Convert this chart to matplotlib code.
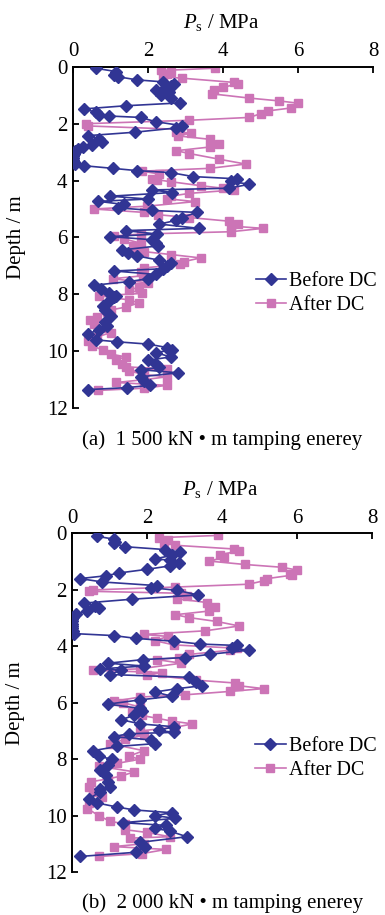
import matplotlib
matplotlib.use("Agg")
import matplotlib.pyplot as plt

plt.rcParams['font.family'] = ['Liberation Serif', 'DejaVu Serif']
plt.rcParams['mathtext.fontset'] = 'custom'
plt.rcParams['mathtext.rm'] = 'Liberation Serif'
plt.rcParams['mathtext.it'] = 'Liberation Serif:italic'

# (depth m, Ps MPa) pairs for each CPT sounding
before_a = [(0.05, 0.6), (0.17, 1.15), (0.3, 1.1), (0.35, 1.2), (0.46, 1.7), (0.53, 2.4),
            (0.6, 2.7), (0.68, 2.6), (0.75, 2.45), (0.83, 2.2), (0.9, 2.55), (1.0, 2.35),
            (1.1, 2.6), (1.27, 2.85), (1.37, 1.4), (1.48, 0.3), (1.6, 0.6), (1.68, 0.7),
            (1.73, 0.95), (1.78, 1.8), (1.93, 2.2), (2.07, 2.9), (2.15, 2.75), (2.3, 1.65),
            (2.42, 0.4), (2.55, 0.7), (2.65, 0.78), (2.75, 0.5), (2.82, 0.25), (2.9, 0.12),
            (2.97, 0.05), (3.05, 0.02), (3.12, 0.0), (3.2, 0.0), (3.27, 0.0), (3.35, 0.02),
            (3.42, 0.05), (3.48, 0.3), (3.57, 1.05), (3.65, 1.7), (3.72, 2.6), (3.86, 3.2),
            (3.94, 4.38), (4.03, 4.2), (4.13, 4.7), (4.27, 4.15), (4.33, 2.1), (4.42, 2.65),
            (4.55, 0.99), (4.65, 2.0), (4.73, 0.67), (4.84, 1.35), (4.96, 1.2), (5.05, 2.1),
            (5.12, 3.3), (5.3, 2.9), (5.4, 2.75), (5.53, 2.3), (5.68, 3.35), (5.76, 1.4),
            (5.88, 2.24), (5.97, 0.99), (6.08, 2.1), (6.2, 2.2), (6.3, 2.25), (6.44, 1.3),
            (6.55, 1.45), (6.65, 1.7), (6.8, 2.3), (6.9, 2.6), (7.0, 2.5), (7.1, 2.4),
            (7.18, 1.1), (7.3, 2.2), (7.45, 2.0), (7.55, 1.5), (7.68, 0.55), (7.8, 0.75),
            (7.95, 0.95), (8.05, 1.15), (8.1, 1.1), (8.25, 0.95), (8.4, 0.8), (8.55, 0.85),
            (8.75, 1.0), (8.97, 0.85), (9.1, 0.9), (9.25, 0.7), (9.38, 0.4), (9.6, 0.6),
            (9.67, 1.18), (9.75, 2.0), (9.87, 2.5), (9.95, 2.65), (10.05, 2.2), (10.2, 2.6),
            (10.32, 2.0), (10.45, 2.2), (10.57, 2.3), (10.65, 1.8), (10.76, 2.8), (10.9, 1.8),
            (11.05, 1.9), (11.2, 2.05), (11.28, 1.44), (11.35, 0.4)]

after_a = [(0.05, 3.79), (0.13, 2.35), (0.2, 2.6), (0.27, 2.5), (0.35, 2.4), (0.4, 2.9),
           (0.55, 4.3), (0.6, 4.4), (0.72, 4.0), (0.8, 3.75), (0.95, 3.7), (1.1, 4.7),
           (1.2, 5.5), (1.28, 6.0), (1.45, 5.8), (1.55, 5.2), (1.65, 5.0), (1.78, 4.7),
           (1.88, 3.1), (2.0, 0.35), (2.08, 0.4), (2.2, 2.85), (2.3, 2.75), (2.33, 3.15),
           (2.43, 2.8), (2.55, 3.65), (2.7, 3.9), (2.82, 3.65), (2.95, 2.75), (3.05, 3.1),
           (3.25, 3.9), (3.42, 4.6), (3.57, 3.65), (3.67, 1.83), (3.77, 2.3), (3.93, 2.1),
           (3.97, 2.23), (4.04, 2.6), (4.18, 3.4), (4.27, 4.0), (4.33, 4.3), (4.45, 3.1),
           (4.55, 2.6), (4.64, 2.5), (4.74, 3.25), (4.9, 1.98), (5.0, 0.55), (5.12, 1.9),
           (5.2, 2.25), (5.3, 3.1), (5.43, 4.17), (5.53, 4.4), (5.6, 4.2), (5.68, 5.07),
           (5.8, 4.2), (5.88, 1.8), (5.95, 1.1), (6.05, 1.35), (6.2, 1.8), (6.3, 1.6),
           (6.4, 1.65), (6.5, 1.9), (6.6, 2.6), (6.72, 3.4), (6.85, 2.95), (6.95, 2.85),
           (7.07, 1.9), (7.2, 1.8), (7.35, 1.85), (7.45, 1.05), (7.6, 2.0), (7.75, 1.75),
           (7.85, 1.5), (7.97, 1.83), (8.05, 0.7), (8.2, 1.5), (8.3, 1.75), (8.45, 1.4),
           (8.55, 1.0), (8.62, 0.9), (8.8, 0.63), (8.9, 0.45), (9.05, 0.55), (9.2, 0.9),
           (9.35, 1.0), (9.5, 0.63), (9.65, 0.4), (9.8, 0.5), (9.97, 0.8), (10.1, 1.0),
           (10.2, 1.4), (10.3, 1.15), (10.45, 1.3), (10.55, 1.4), (10.62, 2.5), (10.7, 1.5),
           (10.82, 1.9), (10.9, 2.5), (11.0, 1.9), (11.1, 1.15), (11.2, 2.5), (11.3, 1.9),
           (11.38, 0.65)]

before_b = [(0.1, 0.65), (0.2, 1.1), (0.3, 1.15), (0.35, 1.1), (0.47, 1.4), (0.57, 2.46),
            (0.67, 2.86), (0.78, 2.65), (0.9, 2.2), (0.95, 2.6), (1.05, 2.85), (1.15, 2.6),
            (1.27, 2.0), (1.4, 1.25), (1.5, 0.9), (1.6, 0.2), (1.72, 0.8), (1.85, 2.26),
            (1.92, 2.1), (2.02, 2.8), (2.18, 3.35), (2.33, 1.6), (2.47, 0.3), (2.57, 0.6),
            (2.65, 0.7), (2.75, 0.4), (2.85, 0.1), (2.95, 0.02), (3.05, 0.0), (3.12, 0.0),
            (3.2, 0.0), (3.28, 0.0), (3.36, 0.0), (3.45, 0.02), (3.55, 0.05), (3.62, 1.1),
            (3.72, 1.7), (3.82, 2.7), (3.92, 3.4), (3.97, 4.38), (4.07, 4.25), (4.14, 4.7),
            (4.28, 3.68), (4.4, 3.0), (4.47, 1.89), (4.6, 0.95), (4.7, 1.9), (4.8, 0.75),
            (4.85, 1.3), (5.0, 1.0), (5.1, 3.1), (5.26, 3.3), (5.4, 3.45), (5.5, 2.8),
            (5.62, 2.2), (5.77, 2.65), (5.9, 1.8), (6.05, 0.95), (6.2, 1.8), (6.3, 1.85),
            (6.45, 1.65), (6.6, 1.3), (6.75, 1.8), (6.85, 2.7), (6.98, 2.3), (7.05, 2.7),
            (7.1, 1.5), (7.2, 1.1), (7.32, 2.1), (7.45, 2.2), (7.55, 1.2), (7.7, 0.55),
            (7.9, 0.7), (8.0, 1.05), (8.2, 0.95), (8.4, 0.75), (8.55, 0.9), (8.8, 0.95),
            (9.0, 1.0), (9.05, 0.75), (9.15, 0.75), (9.4, 0.45), (9.55, 0.65), (9.7, 1.2),
            (9.8, 1.65), (9.9, 2.65), (10.0, 2.2), (10.1, 2.75), (10.25, 1.35), (10.35, 2.5),
            (10.45, 2.2), (10.55, 2.6), (10.75, 3.05), (10.95, 1.8), (11.1, 1.95),
            (11.3, 1.7), (11.45, 0.2)]

after_b = [(0.07, 3.89), (0.15, 2.3), (0.25, 2.55), (0.33, 2.45), (0.42, 2.75), (0.55, 4.3),
           (0.62, 4.45), (0.75, 3.95), (0.85, 4.05), (0.98, 3.65), (1.1, 4.6), (1.2, 5.6),
           (1.3, 6.0), (1.42, 5.8), (1.48, 5.85), (1.6, 5.2), (1.68, 5.1), (1.8, 4.7),
           (1.9, 2.75), (2.0, 0.55), (2.05, 0.45), (2.12, 2.9), (2.22, 3.05), (2.32, 2.8),
           (2.45, 3.6), (2.6, 3.8), (2.75, 3.65), (2.88, 2.75), (2.98, 3.1), (3.12, 3.85),
           (3.28, 4.45), (3.45, 3.55), (3.58, 1.9), (3.65, 2.55), (3.8, 2.2), (3.95, 2.7),
           (4.07, 4.4), (4.14, 4.2), (4.29, 3.1), (4.4, 2.85), (4.47, 2.25), (4.6, 2.9),
           (4.8, 1.8), (4.85, 0.55), (4.93, 2.4), (5.0, 2.0), (5.2, 3.3), (5.3, 4.33),
           (5.4, 4.45), (5.5, 5.1), (5.6, 4.2), (5.72, 3.0), (5.8, 1.8), (5.95, 1.1),
           (6.0, 1.35), (6.15, 1.8), (6.33, 1.6), (6.45, 1.85), (6.55, 2.25), (6.65, 2.65),
           (6.75, 3.2), (6.87, 2.75), (7.0, 1.8), (7.15, 1.9), (7.3, 1.4), (7.45, 1.0),
           (7.7, 1.9), (7.9, 1.5), (8.0, 1.8), (8.15, 1.2), (8.25, 0.7), (8.45, 1.65),
           (8.6, 1.3), (8.7, 0.95), (8.8, 0.5), (9.0, 0.45), (9.15, 0.55), (9.35, 0.8),
           (9.55, 0.45), (9.75, 0.4), (10.0, 0.7), (10.2, 1.0), (10.3, 1.4), (10.5, 1.4),
           (10.6, 2.0), (10.75, 2.6), (10.8, 1.55), (11.0, 1.9), (11.1, 1.1), (11.2, 2.5),
           (11.35, 1.85), (11.45, 0.7)]

captions = ["(a)  1 500 kN \u2022 m tamping enerey",
            "(b)  2 000 kN \u2022 m tamping enerey"]

blue = '#313594'
pink = '#CC74B6'
fs = 15

fig = plt.figure(figsize=(3.85, 9.15), dpi=100)
ax_a = fig.add_axes([0.19, 0.554, 0.779, 0.373])
ax_b = fig.add_axes([0.188, 0.047, 0.779, 0.370])


def draw_panel(ax, before, after, caption, cap_y):
    d0, p0 = zip(*before)
    d1, p1 = zip(*after)
    ax.plot(p0, d0, color=blue, marker='D', markersize=6.3, linewidth=1.2,
            label='Before DC', zorder=3)
    ax.plot(p1, d1, color=pink, marker='s', markersize=6.2, linewidth=1.2,
            label='After DC', zorder=2)
    ax.set_xlim(0, 8)
    ax.set_ylim(12, 0)
    ax.set_xticks([0, 2, 4, 6, 8])
    ax.set_yticks([0, 2, 4, 6, 8, 10, 12])
    ax.xaxis.tick_top()
    ax.xaxis.set_label_position('top')
    ax.spines['right'].set_visible(False)
    ax.spines['bottom'].set_visible(False)
    for s in ('left', 'top'):
        ax.spines[s].set_linewidth(1.4)
    ax.tick_params(direction='in', length=4, width=1.3, labelsize=fs, pad=4)
    ax.set_xlabel(r'$P_\mathrm{s}$ / MPa', fontsize=fs)
    ax.xaxis.set_label_coords(0.493, 1.13)
    ax.xaxis.label.set_va('center')
    ax.set_ylabel('Depth / m', fontsize=fs)
    ax.yaxis.set_label_coords(-0.19, 0.5)
    ax.yaxis.label.set_va('center')
    ax.legend(loc='upper left', bbox_to_anchor=(0.61, 0.40), frameon=False,
              fontsize=14.5, handlelength=1.5, handletextpad=0.15,
              labelspacing=0.25, borderpad=0, borderaxespad=0)
    fig.text(0.578, cap_y, caption, ha='center', va='center', fontsize=fs)


draw_panel(ax_a, before_a, after_a, captions[0], 1 - 440 / 915)
draw_panel(ax_b, before_b, after_b, captions[1], 1 - 903 / 915)

fig.savefig('out.png', dpi=100)
